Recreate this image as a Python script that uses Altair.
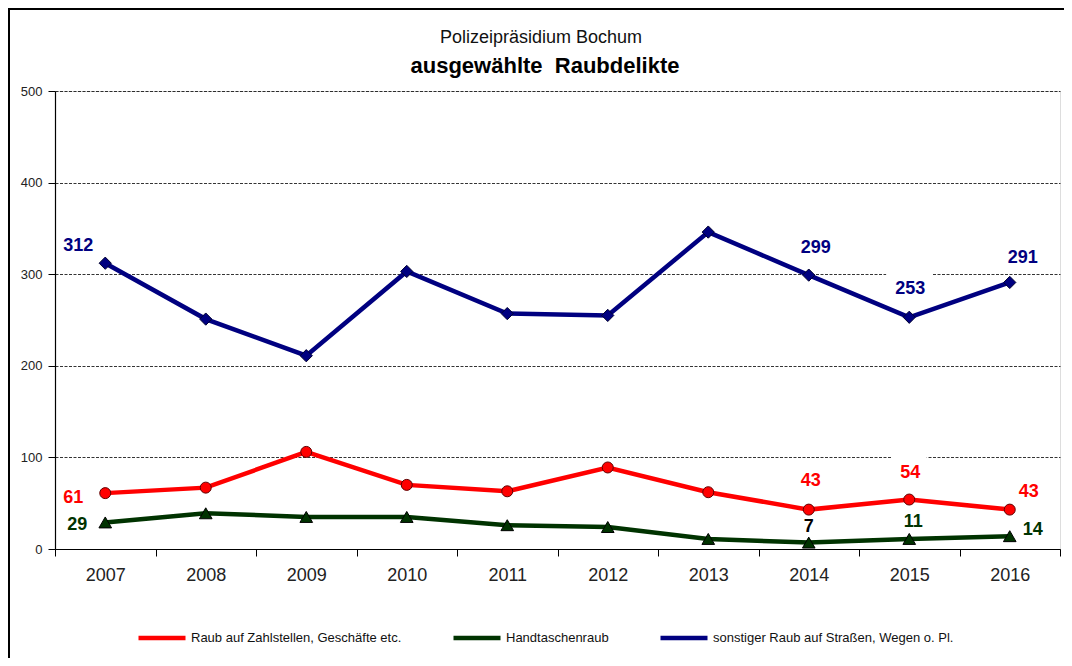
import altair as alt
import pandas as pd

# ---------------- data ----------------
years = ["2007", "2008", "2009", "2010", "2011", "2012", "2013", "2014", "2015", "2016"]
raub_zahlstellen = [61, 67, 106, 70, 63, 89, 62, 43, 54, 43]
handtaschenraub = [29, 39, 35, 35, 26, 24, 11, 7, 11, 14]
sonstiger_raub = [312, 251, 211, 303, 257, 255, 346, 299, 253, 291]

series_names = [
    "Raub auf Zahlstellen, Geschäfte etc.",
    "Handtaschenraub",
    "sonstiger Raub auf Straßen, Wegen o. Pl.",
]
series_values = [raub_zahlstellen, handtaschenraub, sonstiger_raub]
series_colors = ["#FF0000", "#003300", "#000080"]

title_line1 = "Polizeipräsidium Bochum"
title_line2 = "ausgewählte\u00a0 Raubdelikte"

rows = []
for name, vals in zip(series_names, series_values):
    for yr, v in zip(years, vals):
        rows.append({"Jahr": yr, "Serie": name, "Anzahl": v})
df = pd.DataFrame(rows)

FONT = "Liberation Sans, Arial, sans-serif"

x_enc = alt.X(
    "Jahr:N",
    sort=years,
    scale=alt.Scale(type="band", paddingInner=0, paddingOuter=0),
    axis=alt.Axis(
        title=None, labelAngle=0, tickBand="extent", grid=False,
        domainColor="black", domainWidth=1.2, tickColor="black", tickSize=7,
        labelFont=FONT, labelFontSize=18, labelColor="#222", labelPadding=10,
    ),
)
y_enc = alt.Y(
    "Anzahl:Q",
    scale=alt.Scale(domain=[0, 500], nice=False),
    axis=alt.Axis(
        title=None, values=[0, 100, 200, 300, 400, 500], grid=True,
        gridDash=[3, 1.5], gridColor="black", gridWidth=0.8,
        domainColor="black", domainWidth=1.2, tickColor="black", tickSize=7,
        labelFont=FONT, labelFontSize=13, labelColor="#222", labelPadding=6,
    ),
)

base = alt.Chart(df).encode(x=x_enc, y=y_enc)

# white boxes behind two labels (gaps in gridlines as in the original)
box_253 = base.mark_point(
    shape="M-1,-0.78H1V0.78H-1Z", size=46 * 46, filled=True, fill="white",
    opacity=1, yOffset=-28,
).transform_filter((alt.datum.Serie == series_names[2]) & (alt.datum.Jahr == "2015"))
box_54 = base.mark_point(
    shape="M-1,-1H1V1H-1Z", size=35 * 35, filled=True, fill="white",
    opacity=1, yOffset=-27,
).transform_filter((alt.datum.Serie == series_names[0]) & (alt.datum.Jahr == "2015"))

lines = base.mark_line(strokeWidth=4.5).encode(
    color=alt.Color(
        "Serie:N",
        scale=alt.Scale(domain=series_names, range=series_colors),
        legend=alt.Legend(
            title=None, orient="none", legendX=81, legendY=521,
            direction="horizontal", columns=3, symbolType="stroke",
            symbolStrokeWidth=4.5, symbolSize=47 * 47, labelFont=FONT,
            labelFontSize=13, labelColor="#111", labelOffset=3,
            columnPadding=42, labelLimit=400,
        ),
    )
)

pts_red = base.mark_point(
    shape="circle", size=121, filled=True, fill="#FF0000", stroke="#600000",
    strokeWidth=1, opacity=1,
).transform_filter(alt.datum.Serie == series_names[0])
pts_green = base.mark_point(
    shape="triangle-up", size=160, filled=True, fill="#003300", stroke="#000000",
    strokeWidth=1, opacity=1,
).transform_filter(alt.datum.Serie == series_names[1])
pts_blue = base.mark_point(
    shape="diamond", size=150, filled=True, fill="#000080", stroke="#000030",
    strokeWidth=1, opacity=1,
).transform_filter(alt.datum.Serie == series_names[2])

# data labels: (series index, year, dx, dy, colour)
label_specs = [
    (2, "2007", -27, -17, "#000080"),
    (2, "2014", 7, -27, "#000080"),
    (2, "2015", 1, -28, "#000080"),
    (2, "2016", 13, -24, "#000080"),
    (0, "2007", -32, 5, "#FF0000"),
    (0, "2014", 2, -29, "#FF0000"),
    (0, "2015", 1, -27, "#FF0000"),
    (0, "2016", 19, -18, "#FF0000"),
    (1, "2007", -28, 3, "#003300"),
    (1, "2014", 0, -16, "#000000"),
    (1, "2015", 4, -17, "#003300"),
    (1, "2016", 23, -6, "#003300"),
]
label_layers = []
for si, yr, dx, dy, col in label_specs:
    label_layers.append(
        base.mark_text(
            dx=dx, dy=dy, color=col, font=FONT, fontSize=18, fontWeight="bold",
            align="center", baseline="middle",
        ).encode(text=alt.Text("Anzahl:Q"))
        .transform_filter((alt.datum.Serie == series_names[si]) & (alt.datum.Jahr == yr))
    )

# decoration: outer frame (left and top edges, as thin filled bars) and title lines
deco = alt.Data(values=[{"f": 1}])
frame_left = alt.Chart(deco).mark_rect(color="black", opacity=1).encode(
    x=alt.value(-47), x2=alt.value(-45), y=alt.value(-83), y2=alt.value(600)
)
frame_top = alt.Chart(deco).mark_rect(color="black", opacity=1).encode(
    x=alt.value(-47), x2=alt.value(1100), y=alt.value(-83), y2=alt.value(-81)
)
title1 = alt.Chart(deco).mark_text(
    font=FONT, fontSize=18, color="#111", align="center", baseline="middle"
).encode(x=alt.value(486), y=alt.value(-53), text=alt.value(title_line1))
title2 = alt.Chart(deco).mark_text(
    font=FONT, fontSize=22, fontWeight="bold", color="#000", align="center",
    baseline="middle",
).encode(x=alt.value(490), y=alt.value(-25), text=alt.value(title_line2))

chart = alt.layer(
    box_253, box_54, lines, pts_red, pts_green, pts_blue, *label_layers,
    frame_left, frame_top, title1, title2,
).properties(
    width=1005,
    height=458,
    autosize=alt.AutoSizeParams(type="none"),
    padding={"left": 47, "top": 83, "right": 4, "bottom": 109},
).configure_view(stroke="#777", strokeWidth=1).configure(background="white")

chart.save("out.html", embed_options={"renderer": "svg", "actions": False})
